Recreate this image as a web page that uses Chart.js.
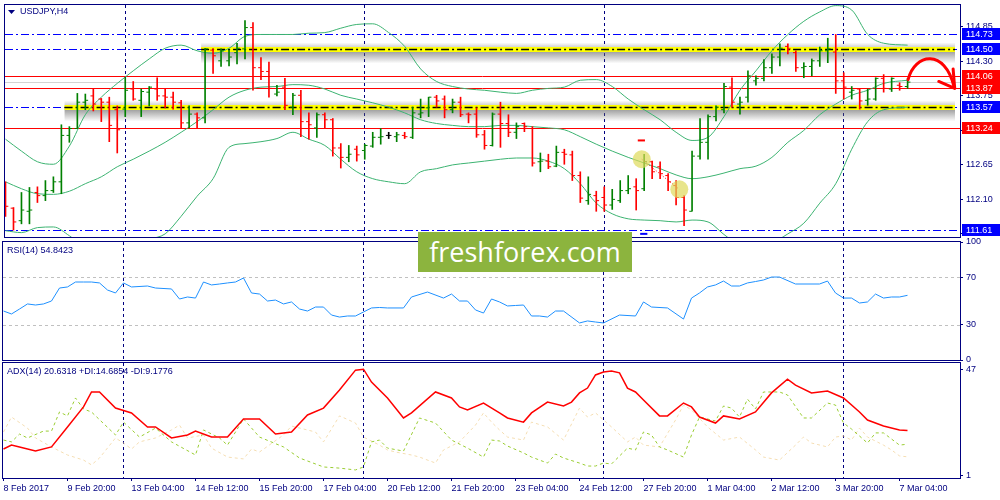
<!DOCTYPE html>
<html>
<head>
<meta charset="utf-8">
<title>USDJPY H4</title>
<script src="https://cdn.jsdelivr.net/npm/chart.js@4.4.1/dist/chart.umd.min.js"></script>
<style>
body { margin: 0; background: #fff; }
#box { position: relative; width: 1000px; height: 500px; overflow: hidden; background: #fff; }
#box canvas { position: absolute; left: 0; }
#logo { position: absolute; left: 418px; top: 232px; width: 214px; height: 40px; background: #8cb43e; color: #fff;
  font-family: "Open Sans", sans-serif; font-size: 27px; line-height: 40px; text-align: center; z-index: 5; }
</style>
</head>
<body>
<div id="box">
  <canvas id="main" width="1000" height="242" style="top:0"></canvas>
  <canvas id="rsi" width="1000" height="130" style="top:236px"></canvas>
  <canvas id="adx" width="1000" height="143" style="top:357px"></canvas>
  <div id="logo">freshforex.com</div>
</div>
<script>
// H4 bars, index 0 = 8 Feb 2017
const opens = [112.04,111.96,111.76,111.91,112.21,112.16,112.24,112.38,113.12,113.23,
  113.65,113.75,113.70,113.65,113.53,113.54,113.86,113.68,113.81,113.86,
  113.75,113.73,113.64,113.32,113.46,113.40,114.48,114.31,114.31,114.44,
  114.50,114.84,114.20,114.14,113.78,113.89,113.57,113.76,113.34,113.24,
  113.45,113.37,112.92,112.77,112.90,112.88,112.95,113.09,113.12,113.10,
  113.12,113.09,113.46,113.56,113.73,113.70,113.53,113.65,113.46,113.46,
  113.13,112.96,113.46,113.31,113.17,113.31,113.23,112.70,112.71,112.63,
  112.85,112.81,112.48,112.08,112.16,112.13,112.01,112.08,112.24,112.30,
  112.27,112.70,112.62,112.48,112.32,112.13,111.91,112.79,113.01,113.42,
  113.53,113.89,113.62,113.73,113.99,114.03,114.20,114.37,114.54,114.44,
  114.20,114.22,114.31,114.47,114.45,113.99,113.81,113.86,113.68,113.70,
  114.03,113.86,113.92,113.90];
const highs = [112.38,111.97,112.21,112.29,112.30,112.40,112.46,113.29,113.26,113.79,
  113.78,113.86,113.71,113.73,113.59,114.04,113.98,113.86,113.90,114.04,
  113.86,113.81,113.68,113.59,113.48,114.51,114.50,114.50,114.48,114.59,
  114.95,114.92,114.36,114.29,113.92,114.03,113.79,113.84,113.48,113.48,
  113.48,113.39,112.99,112.96,112.95,112.98,113.17,113.23,113.17,113.17,
  113.17,113.57,113.70,113.73,113.76,113.75,113.70,113.73,113.48,113.56,
  113.20,113.48,113.65,113.45,113.32,113.32,113.26,112.84,112.82,112.95,
  112.90,112.87,112.54,112.46,112.23,112.30,112.26,112.40,112.48,112.43,
  112.82,112.71,112.70,112.51,112.40,112.16,112.87,113.39,113.45,113.59,
  113.95,114.04,113.73,114.15,114.07,114.33,114.42,114.58,114.58,114.47,
  114.28,114.34,114.53,114.67,114.73,114.12,113.90,113.87,113.86,114.04,
  114.09,114.04,113.96,114.03];
const lows = [111.83,111.61,111.71,111.71,112.05,112.08,112.21,112.19,113.01,113.23,
  113.53,113.51,113.34,113.02,112.84,113.42,113.68,113.42,113.59,113.68,
  113.56,113.54,113.24,113.24,113.23,113.32,114.11,114.22,114.23,114.26,
  114.34,113.84,114.01,113.73,113.75,113.53,113.45,113.10,113.06,113.09,
  113.24,112.79,112.60,112.70,112.71,112.74,112.93,112.98,113.07,113.02,
  113.07,113.07,113.40,113.42,113.57,113.40,113.48,113.42,113.32,113.09,
  112.90,112.95,112.93,113.10,113.07,113.18,112.63,112.54,112.59,112.62,
  112.66,112.40,112.05,112.02,111.91,111.91,111.94,112.05,112.19,111.93,
  112.24,112.43,112.43,112.24,112.01,111.68,111.91,112.74,112.74,113.35,
  113.48,113.57,113.46,113.65,113.92,113.99,114.11,114.23,114.42,114.14,
  114.04,114.07,114.22,114.28,113.79,113.70,113.70,113.54,113.60,113.68,
  113.81,113.82,113.84,113.87];
const closes = [111.99,111.74,111.93,111.93,112.16,112.24,112.38,113.12,113.23,113.65,
  113.68,113.62,113.65,113.28,113.21,113.84,113.70,113.82,113.89,113.75,
  113.73,113.65,113.32,113.46,113.40,114.50,114.39,114.47,114.37,114.51,
  114.84,114.20,114.14,113.87,113.81,113.60,113.76,113.34,113.29,113.45,
  113.37,112.92,112.77,112.82,112.81,112.96,113.09,113.10,113.12,113.13,
  113.10,113.48,113.48,113.73,113.67,113.53,113.65,113.45,113.45,113.13,
  112.96,113.46,113.31,113.17,113.26,113.26,112.68,112.71,112.62,112.85,
  112.82,112.48,112.12,112.18,112.08,112.01,112.10,112.24,112.27,112.24,
  112.70,112.54,112.51,112.38,112.13,111.93,112.79,113.01,113.42,113.57,
  113.90,113.65,113.65,114.07,114.03,114.20,114.37,114.51,114.50,114.20,
  114.22,114.31,114.47,114.50,113.99,113.89,113.84,113.67,113.70,114.03,
  113.87,114.03,113.90,113.97];

// Bollinger bands, read every second bar
const bbX = [0,2,4,6,8,10,12,14,16,18,20,22,24,26,28,30,32,34,36,38,40,42,44,46,48,50,52,54,56,58,
  60,62,64,66,68,70,72,74,76,78,80,82,84,86,88,90,92,94,96,98,100,102,104,106,108,110,113];
const bbUp = [113.06,112.87,112.70,112.66,112.95,113.45,113.73,113.95,114.15,114.34,
  114.51,114.56,114.47,114.43,114.51,114.70,114.73,114.73,114.73,114.75,
  114.76,114.83,114.89,114.90,114.76,114.54,114.18,113.98,113.90,113.86,
  113.84,113.81,113.79,113.84,113.87,113.89,114.00,114.01,113.90,113.70,
  113.53,113.37,113.17,113.04,113.09,113.42,113.84,114.15,114.47,114.73,
  114.94,115.09,115.19,115.12,114.73,114.59,114.56];
const bbMid = [112.38,112.27,112.19,112.18,112.23,112.35,112.46,112.62,112.74,112.87,
  113.01,113.17,113.34,113.53,113.73,113.84,113.89,113.90,113.93,113.92,
  113.86,113.76,113.70,113.64,113.57,113.48,113.37,113.31,113.28,113.26,
  113.26,113.28,113.28,113.26,113.24,113.21,113.10,112.98,112.87,112.77,
  112.68,112.59,112.49,112.43,112.46,112.52,112.59,112.63,112.77,113.01,
  113.20,113.45,113.62,113.76,113.84,113.95,114.00];
const bbLow = [111.60,111.57,111.65,111.66,111.52,111.33,111.21,111.24,111.33,111.46,
  111.55,111.83,112.15,112.43,112.93,112.99,113.02,113.07,113.17,113.06,
  112.96,112.74,112.54,112.43,112.38,112.35,112.54,112.59,112.65,112.68,
  112.71,112.74,112.76,112.76,112.71,112.59,112.35,112.04,111.87,111.79,
  111.77,111.76,111.74,111.77,111.74,111.54,111.36,111.30,111.40,111.55,
  111.72,112.04,112.35,112.90,113.34,113.53,113.57];

// RSI(14)
const rsiX = [0,1,2,3,4,5,6,7,8,9,10,11,12,13,14,15,16,
  18,19,21,22,23,24,25,26,27,28,29,30,31,32,33,34,35,36,37,38,39,40,41,42,43,44,45,46,47,48,
  50,51,53,55,56,57,58,59,60,61,62,63,64,65,66,67,68,69,70,
  72,73,74,75,77,79,80,81,83,85,86,87,88,89,90,91,92,93,94,95,96,97,99,
  102,103,104,105,106,107,108,109,110,111,112,113];
const rsiV = [41.5,39.0,43.2,47.5,46.6,47.5,50.0,61.0,61.9,66.1,66.1,66.1,65.3,59.3,56.8,65.3,61.9,
  62.7,61.0,60.2,51.7,53.4,52.5,66.1,63.6,64.4,65.3,66.1,69.5,56.8,55.9,50.0,50.8,47.5,49.2,43.2,41.5,44.9,44.9,38.1,36.4,37.3,37.3,40.7,44.1,44.5,44.1,
  44.1,53.4,57.6,52.5,55.9,50.0,50.0,42.4,39.8,51.7,49.2,45.8,46.2,46.6,37.3,37.3,36.4,41.5,41.5,
  31.4,33.1,32.2,31.4,38.1,37.3,49.2,44.9,44.1,34.7,52.5,56.8,61.9,63.6,66.9,62.7,62.7,65.3,66.5,67.8,70.3,70.3,64.4,
  64.4,66.9,56.8,52.5,52.5,48.3,49.2,55.9,52.5,53.4,53.4,54.8];
const rsiLevels = [70, 30];

// ADX(14), +DI, -DI
const adxX = [0,1,2,4,6,8,10,11,12,14,16,18,19,21,23,24,26,28,30,32,34,36,38,40,42,44,45,46,48,50,
  51,54,56,57,58,60,62,63,65,66,68,70,71,72,73,74,75,76,77,78,79,80,82,83,85,86,87,89,90,92,
  94,96,98,99,101,102,103,105,107,108,110,112,113];
const adxV = [12.6,14.3,13.5,11.7,13.5,22.2,30.9,37.4,37.4,30.4,28.3,22.2,22.2,17.4,18.7,20.4,17.8,17.8,25.7,25.7,
  19.1,20.0,27.4,30.4,38.3,46.9,47.3,41.7,34.8,26.1,28.3,37.4,34.8,30.9,29.6,32.6,28.3,26.1,24.3,28.3,
  33.0,31.3,33.0,37.0,39.1,44.8,46.1,46.5,45.7,39.1,37.4,33.9,27.0,27.0,32.6,30.9,26.5,23.9,27.0,25.7,
  28.7,37.0,43.0,40.4,37.0,37.4,37.8,34.8,28.7,25.2,22.6,20.9,20.6];
const pdiX = [0,1,2,3,5,6,7,8,9,10,11,14,15,17,19,21,24,25,27,28,30,32,35,37,40,42,44,45,46,47,
  48,50,52,54,56,58,60,61,62,63,65,66,68,69,70,72,73,74,75,76,78,79,80,81,82,83,85,86,87,89,
  90,91,92,93,94,95,97,98,100,101,103,104,105,106,108,109,110,112,113];
const pdiV = [16.5,15.7,19.1,17.4,20.4,20.4,28.7,27.0,34.8,30.0,28.7,18.7,24.3,17.8,21.7,15.7,10.0,20.9,17.4,14.3,
  25.7,17.8,13.5,8.7,4.8,4.3,3.5,4.8,15.7,16.5,13.0,11.7,26.1,23.9,16.5,13.0,9.1,16.5,16.1,13.9,
  10.9,9.1,6.5,10.4,8.7,6.5,5.2,5.2,6.5,6.1,13.0,12.2,20.0,18.7,13.5,12.2,9.1,18.7,26.5,24.8,
  31.3,30.4,26.5,34.3,30.0,37.4,37.4,36.1,26.1,26.1,32.6,31.7,23.9,21.3,15.2,19.6,19.6,14.3,14.7];
const mdiX = [0,1,3,4,6,8,10,11,12,14,15,16,17,19,21,22,23,25,26,28,30,31,32,35,36,39,40,42,44,45,
  47,48,49,51,52,54,55,57,59,60,61,62,63,65,66,68,70,72,73,74,76,78,79,80,82,84,85,86,88,90,
  92,94,95,97,99,100,101,103,104,105,106,107,108,110,111,112,113];
const mdiV = [20.0,26.5,21.7,17.4,13.5,10.0,7.8,5.7,8.7,17.4,15.2,12.6,15.7,17.4,20.9,23.0,17.4,18.7,13.0,9.1,
  8.3,12.6,11.3,18.7,22.6,20.0,15.7,27.0,23.9,17.8,14.3,12.2,11.3,10.0,9.1,6.5,12.2,15.7,23.0,28.3,
  24.3,20.9,17.8,16.5,24.3,22.2,16.5,30.4,26.5,28.3,22.2,15.7,17.8,14.3,13.5,25.2,31.7,29.6,22.2,16.5,
  17.8,12.2,9.1,7.8,14.3,17.8,15.2,13.5,17.8,18.3,16.5,21.7,17.8,14.3,12.2,9.6,9.2];

// axes
const tickIdx = [0,8,16,24,32,40,48,56,64,72,80,88,96,104,112];
const tickLabels = ['8 Feb 2017','9 Feb 20:00','13 Feb 04:00','14 Feb 12:00','15 Feb 20:00','17 Feb 04:00',
  '20 Feb 12:00','21 Feb 20:00','23 Feb 04:00','24 Feb 12:00','27 Feb 20:00','1 Mar 04:00','2 Mar 12:00',
  '3 Mar 20:00','7 Mar 04:00'];
const priceTicks = [114.85,114.30,113.75,113.20,112.65,112.10,111.55];
const rsiTicks = [100,70,30,0];
const adxTicks = [47,1];
const sepIdx = [15,45,75,105];

// chart objects
const bluePrices = [114.73,114.50,113.57,111.61];
const redPrices = [114.06,113.87,113.24];
const bidPrice = 113.97;
const zonePrices = [114.50,113.57];
const zoneFrom = [24.5,7.4];
const tagPrices = [114.73,114.50,113.57,111.61,113.24,114.06,113.87];
const tagKinds = ['b','b','b','b','r','r','r'];
const circX = [79.7,84.4];
const circP = [112.74,112.26];
const arrowX = [113.06,113.9,117.7,118.8];
const arrowP = [114.01,114.44,114.50,113.90];

const navy = '#000080';
const upCol = '#008000', downCol = '#ff0000';
const fam = "'Liberation Sans', Arial, sans-serif";
const X_MIN = -0.0625, X_MAX = 119.5625;
const barColor = closes.map((c, k) => c > opens[k] ? upCol : (c < opens[k] ? downCol : '#000000'));

function xy(xs, vs) { return xs.map((x, k) => ({ x: x, y: vs[k] })); }
function noPad(s) { s.paddingTop = 0; s.paddingBottom = 0; s.paddingLeft = 0; s.paddingRight = 0; }

const frame = {
  id: 'frame',
  beforeDatasetsDraw(chart, args, o) {
    const ctx = chart.ctx, a = chart.chartArea, xs = chart.scales.x, ys = chart.scales.y;
    ctx.save();
    ctx.lineWidth = 1;
    if (o.levels) {
      ctx.strokeStyle = '#c0c0c0'; ctx.setLineDash([3, 3]);
      o.levels.forEach(v => {
        const y = Math.round(ys.getPixelForValue(v)) + 0.5;
        ctx.beginPath(); ctx.moveTo(a.left, y); ctx.lineTo(a.right, y); ctx.stroke();
      });
    }
    ctx.strokeStyle = navy; ctx.setLineDash([3, 3]);
    sepIdx.forEach(i => {
      const x = Math.floor(xs.getPixelForValue(i)) + 0.5;
      ctx.beginPath(); ctx.moveTo(x, a.top); ctx.lineTo(x, a.bottom); ctx.stroke();
    });
    ctx.restore();
  },
  afterDraw(chart, args, o) {
    const ctx = chart.ctx, a = chart.chartArea;
    ctx.save();
    ctx.strokeStyle = navy; ctx.lineWidth = 1;
    ctx.strokeRect(a.left - 0.5, a.top - 0.5, a.right - a.left + 1, a.bottom - a.top + 1);
    ctx.fillStyle = navy;
    let tx = a.left + 4;
    if (o.tri) {
      ctx.beginPath(); ctx.moveTo(a.left + 3, a.top + 5); ctx.lineTo(a.left + 10, a.top + 5);
      ctx.lineTo(a.left + 6.5, a.top + 9); ctx.closePath(); ctx.fill();
      tx = a.left + 15;
    }
    ctx.font = '9px ' + fam; ctx.textBaseline = 'middle';
    ctx.fillText(o.label, tx, a.top + o.dy);
    ctx.restore();
  }
};

const marks = {
  id: 'marks',
  beforeDatasetsDraw(chart) {
    const ctx = chart.ctx, a = chart.chartArea, xs = chart.scales.x, ys = chart.scales.y;
    const Y = p => Math.round(ys.getPixelForValue(p)) + 0.5;
    const line = (y, x0, x1) => { ctx.beginPath(); ctx.moveTo(x0, y); ctx.lineTo(x1, y); ctx.stroke(); };
    ctx.save();
    ctx.beginPath(); ctx.rect(a.left, a.top, a.right - a.left, a.bottom - a.top); ctx.clip();
    zonePrices.forEach((p, k) => {
      const y = Y(p), x0 = xs.getPixelForValue(zoneFrom[k]), x1 = a.right - 5;
      const g = ctx.createLinearGradient(0, y - 7, 0, y + 14);
      g.addColorStop(0, 'rgba(100,100,100,0)');
      g.addColorStop(0.45, 'rgba(100,100,100,0.6)');
      g.addColorStop(1, 'rgba(100,100,100,0)');
      ctx.fillStyle = g; ctx.fillRect(x0, y - 7, x1 - x0, 21);
    });
    ctx.lineWidth = 1;
    ctx.strokeStyle = '#0000ff'; ctx.setLineDash([8, 3, 2, 3]);
    bluePrices.forEach(p => line(Y(p), a.left, a.right));
    ctx.setLineDash([]);
    ctx.strokeStyle = '#d3d3d3'; line(Y(bidPrice), a.left, a.right);
    ctx.strokeStyle = '#ff0000'; redPrices.forEach(p => line(Y(p), a.left, a.right));
    zonePrices.forEach((p, k) => {
      const y = Y(p), x0 = xs.getPixelForValue(zoneFrom[k]), x1 = a.right - 5;
      ctx.setLineDash([]); ctx.strokeStyle = '#ffff00'; ctx.lineWidth = 5; line(y, x0, x1);
      ctx.setLineDash([8, 3, 2, 3]); ctx.strokeStyle = '#000000'; ctx.lineWidth = 1.5; line(y, x0, x1);
    });
    ctx.restore();
  },
  afterDatasetsDraw(chart) {
    const ctx = chart.ctx, xs = chart.scales.x, ys = chart.scales.y;
    const X = i => xs.getPixelForValue(i), Y = p => ys.getPixelForValue(p);
    ctx.save();
    ctx.strokeStyle = '#ff0000'; ctx.lineWidth = 1; ctx.setLineDash([1, 2]);
    ctx.beginPath(); ctx.moveTo(X(circX[0]), Y(circP[0])); ctx.lineTo(X(circX[1]), Y(circP[1])); ctx.stroke();
    ctx.setLineDash([]);
    circX.forEach((c, k) => {
      ctx.fillStyle = 'rgba(222,218,90,0.7)';
      ctx.beginPath(); ctx.arc(X(c), Y(circP[k]), 9, 0, Math.PI * 2); ctx.fill();
    });
    ctx.lineWidth = 2;
    ctx.strokeStyle = '#ff0000';
    ctx.beginPath(); ctx.moveTo(X(79.2), Y(113.04)); ctx.lineTo(X(80.1), Y(113.04)); ctx.stroke();
    ctx.strokeStyle = '#0000ff';
    ctx.beginPath(); ctx.moveTo(X(79.5), Y(111.55)); ctx.lineTo(X(80.4), Y(111.55)); ctx.stroke();
    // forecast arrow
    ctx.strokeStyle = '#ff0000'; ctx.lineWidth = 3; ctx.lineCap = 'round'; ctx.lineJoin = 'round';
    ctx.beginPath();
    ctx.moveTo(X(arrowX[0]), Y(arrowP[0]));
    ctx.bezierCurveTo(X(arrowX[1]), Y(arrowP[1]), X(arrowX[2]), Y(arrowP[2]), X(arrowX[3]), Y(arrowP[3]));
    ctx.stroke();
    ctx.beginPath();
    ctx.moveTo(X(116.9), Y(113.98)); ctx.lineTo(X(118.9), Y(113.87)); ctx.lineTo(X(118.7), Y(114.18));
    ctx.stroke();
    ctx.restore();
  },
  afterDraw(chart) {
    const ctx = chart.ctx, a = chart.chartArea, ys = chart.scales.y;
    ctx.save();
    ctx.font = '9px ' + fam; ctx.textBaseline = 'middle';
    tagPrices.forEach((p, k) => {
      const y = Math.round(ys.getPixelForValue(p));
      ctx.fillStyle = tagKinds[k] === 'r' ? '#ff0000' : '#0000ff';
      ctx.fillRect(a.right + 2, y - 6, chart.width - a.right - 2, 12);
      ctx.fillStyle = '#ffffff';
      ctx.fillText(p.toFixed(2), a.right + 6, y + 0.5);
    });
    ctx.restore();
  }
};

function yAxis(min, max, ticks, digits) {
  return {
    position: 'right', min: min, max: max,
    afterBuildTicks: s => { s.ticks = ticks.map(v => ({ value: v })); },
    afterFit: s => { s.width = 40; noPad(s); },
    ticks: { color: navy, font: { family: fam, size: 9 }, padding: 3, autoSkip: false,
      callback: v => v.toFixed(digits) },
    grid: { drawOnChartArea: false, drawTicks: true, tickLength: 3, color: navy },
    border: { display: true, color: navy }
  };
}
const hiddenX = { type: 'linear', min: X_MIN, max: X_MAX, display: false, offset: false };

new Chart(document.getElementById('main'), {
  type: 'bar',
  data: {
    datasets: [
      { type: 'line', data: xy(bbX, bbUp), borderColor: '#3cb371', borderWidth: 1, pointRadius: 0, cubicInterpolationMode: 'monotone', order: 5 },
      { type: 'line', data: xy(bbX, bbMid), borderColor: '#3cb371', borderWidth: 1, pointRadius: 0, cubicInterpolationMode: 'monotone', order: 5 },
      { type: 'line', data: xy(bbX, bbLow), borderColor: '#3cb371', borderWidth: 1, pointRadius: 0, cubicInterpolationMode: 'monotone', order: 5 },
      { type: 'bar', data: highs.map((h, k) => ({ x: k, y: [lows[k], h] })), backgroundColor: barColor, barThickness: 1, order: 2 },
      { type: 'line', data: opens.map((o, k) => ({ x: k - 0.19, y: o })), showLine: false, pointStyle: 'line',
        pointRadius: 1.3, pointBorderWidth: 1, pointBorderColor: barColor, order: 1 },
      { type: 'line', data: closes.map((c, k) => ({ x: k + 0.19, y: c })), showLine: false, pointStyle: 'line',
        pointRadius: 1.3, pointBorderWidth: 1, pointBorderColor: barColor, order: 1 }
    ]
  },
  options: {
    responsive: false, animation: false, events: [],
    layout: { padding: { left: 3, top: 3, right: 0, bottom: 3 } },
    scales: { x: hiddenX, y: yAxis(111.50, 115.20, priceTicks, 2) },
    plugins: { legend: { display: false }, tooltip: { enabled: false }, frame: { label: 'USDJPY,H4', tri: true, dy: 7 } }
  },
  plugins: [frame, marks]
});

new Chart(document.getElementById('rsi'), {
  type: 'line',
  data: { datasets: [
    { data: xy(rsiX, rsiV), borderColor: '#1e90ff', borderWidth: 1, pointRadius: 0 }
  ] },
  options: {
    responsive: false, animation: false, events: [],
    layout: { padding: { left: 3, top: 6, right: 0, bottom: 6 } },
    scales: { x: hiddenX, y: yAxis(0, 100, rsiTicks, 0) },
    plugins: { legend: { display: false }, tooltip: { enabled: false }, frame: { label: 'RSI(14) 54.8423', dy: 9, levels: rsiLevels } }
  },
  plugins: [frame]
});

new Chart(document.getElementById('adx'), {
  type: 'line',
  data: { datasets: [
    { data: xy(mdiX, mdiV), borderColor: '#f5deb3', borderWidth: 1, borderDash: [3, 3], pointRadius: 0, order: 3 },
    { data: xy(pdiX, pdiV), borderColor: '#9acd32', borderWidth: 1, borderDash: [3, 3], pointRadius: 0, order: 2 },
    { data: xy(adxX, adxV), borderColor: '#ff0000', borderWidth: 1.5, pointRadius: 0, order: 1 }
  ] },
  options: {
    responsive: false, animation: false, events: [],
    layout: { padding: { left: 3, top: 6, right: 0, bottom: 0 } },
    scales: {
      x: {
        type: 'linear', min: X_MIN, max: X_MAX, offset: false,
        afterBuildTicks: s => { s.ticks = tickIdx.map(v => ({ value: v })); },
        afterFit: s => { s.height = 22; noPad(s); },
        ticks: { color: navy, font: { family: fam, size: 9 }, align: 'start', maxRotation: 0, minRotation: 0,
          autoSkip: false, padding: 2, callback: v => tickLabels[tickIdx.indexOf(v)] },
        grid: { drawOnChartArea: false, drawTicks: true, tickLength: 3, color: navy },
        border: { display: true, color: navy }
      },
      y: yAxis(0, 50, adxTicks, 0)
    },
    plugins: { legend: { display: false }, tooltip: { enabled: false }, frame: { label: 'ADX(14) 20.6318 +DI:14.6854 -DI:9.1776', dy: 9 } }
  },
  plugins: [frame]
});
</script>
</body>
</html>
